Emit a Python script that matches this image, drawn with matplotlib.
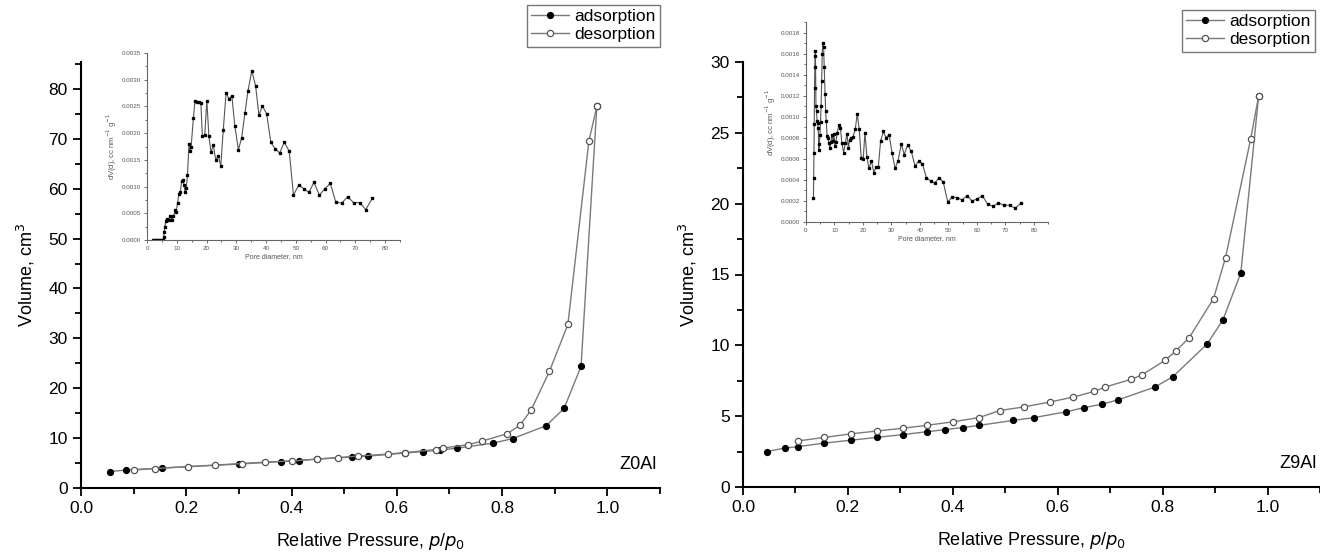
import matplotlib.pyplot as plt
from matplotlib.ticker import MultipleLocator, FormatStrFormatter

plt.rcParams['font.family'] = ['Liberation Sans', 'DejaVu Sans']

# Z0Al isotherm
z0_ads_x = [0.055, 0.085, 0.153, 0.30, 0.38, 0.415, 0.448, 0.514, 0.546, 0.615, 0.649,
            0.682, 0.715, 0.783, 0.82, 0.884, 0.918, 0.95, 0.98]
z0_ads_y = [3.3, 3.6, 4.0, 4.8, 5.3, 5.5, 5.8, 6.2, 6.4, 7.0, 7.3,
            7.6, 8.0, 9.0, 9.9, 12.5, 16.0, 24.4, 76.5]
z0_des_x = [0.10, 0.14, 0.204, 0.254, 0.306, 0.35, 0.40, 0.448, 0.489, 0.526, 0.583,
            0.615, 0.674, 0.687, 0.736, 0.762, 0.81, 0.834, 0.855, 0.89, 0.925, 0.965, 0.98]
z0_des_y = [3.6, 3.9, 4.3, 4.6, 4.9, 5.2, 5.4, 5.8, 6.1, 6.4, 6.8,
            7.1, 7.7, 8.0, 8.7, 9.4, 10.9, 12.6, 15.6, 23.4, 32.8, 69.6, 76.5]

# Z9Al isotherm
z9_ads_x = [0.045, 0.08, 0.105, 0.155, 0.205, 0.255, 0.305, 0.35, 0.385, 0.42, 0.45,
            0.515, 0.555, 0.615, 0.65, 0.685, 0.715, 0.785, 0.82, 0.885, 0.915, 0.949, 0.983]
z9_ads_y = [2.5, 2.75, 2.85, 3.1, 3.3, 3.5, 3.7, 3.9, 4.05, 4.2, 4.35,
            4.7, 4.9, 5.3, 5.6, 5.85, 6.15, 7.05, 7.8, 10.1, 11.8, 15.1, 27.6]
z9_des_x = [0.105, 0.155, 0.205, 0.255, 0.305, 0.35, 0.40, 0.45, 0.49, 0.535, 0.585,
            0.63, 0.67, 0.69, 0.74, 0.76, 0.805, 0.825, 0.85, 0.897, 0.92, 0.968, 0.983]
z9_des_y = [3.25, 3.5, 3.75, 3.95, 4.15, 4.35, 4.6, 4.9, 5.4, 5.65, 6.0,
            6.35, 6.75, 7.05, 7.6, 7.9, 8.95, 9.6, 10.5, 13.3, 16.2, 24.6, 27.6]

# pore size distributions (insets)
z0_psd_x = [2.0, 2.5, 3.0, 3.5, 4.0, 4.5, 5.0, 5.3, 5.6, 5.8, 6.0, 6.3, 6.6, 7.3, 7.8,
            8.4, 8.9, 9.5, 9.8, 10.3, 10.7, 11.2, 11.6, 12.1, 12.5, 12.8, 13.2, 13.6,
            14.1, 14.4, 14.8, 15.6, 16.1, 16.7, 17.4, 18.1, 18.6, 19.4, 20.1, 20.8,
            21.5, 22.3, 23.1, 23.9, 24.8, 25.6, 26.6, 27.5, 28.5, 29.5, 30.7, 31.8,
            32.9, 33.9, 35.2, 36.5, 37.6, 38.8, 40.2, 41.6, 43.1, 44.6, 46.1, 47.8,
            49.2, 51.0, 52.7, 54.4, 56.1, 57.9, 59.8, 61.6, 63.4, 65.4, 67.4, 69.4,
            71.4, 73.5, 75.7]
z0_psd_y = [0.0, 0.0, 0.0, 0.0, 0.0, 0.0, 0.0, 0.0, 0.00005, 0.00015, 0.00025, 0.00035,
            0.0004, 0.00038, 0.00044, 0.00038, 0.00045, 0.00056, 0.00053, 0.0007,
            0.00086, 0.00089, 0.0011, 0.00112, 0.00103, 0.00089, 0.00097, 0.00122,
            0.0018, 0.00166, 0.00174, 0.00228, 0.0026, 0.00259, 0.00258, 0.00256,
            0.00194, 0.00196, 0.00261, 0.00194, 0.00164, 0.00178, 0.00149, 0.00158,
            0.00139, 0.00205, 0.00276, 0.00264, 0.0027, 0.00214, 0.00169, 0.00191,
            0.00237, 0.00278, 0.00317, 0.00288, 0.00234, 0.00251, 0.00236, 0.00183,
            0.0017, 0.00163, 0.00183, 0.00166, 0.00084, 0.00103, 0.00096, 0.00089,
            0.00108, 0.00084, 0.00096, 0.00106, 0.00071, 0.00069, 0.00081, 0.0007,
            0.0007, 0.00057, 0.00078]

z9_psd_x = [2.6, 2.7, 2.8, 2.9, 3.0, 3.1, 3.2, 3.3, 3.5, 3.7, 3.9, 4.1, 4.3, 4.5, 4.7,
            4.9, 5.1, 5.3, 5.5, 5.7, 5.9, 6.2, 6.4, 6.7, 6.9, 7.1, 7.4, 7.7, 8.1,
            8.4, 8.8, 9.1, 9.5, 9.8, 10.2, 10.5, 11.0, 11.5, 12.1, 12.6, 13.2, 13.8,
            14.4, 14.9, 15.3, 15.9, 16.5, 17.3, 18.0, 18.7, 19.4, 20.1, 20.7, 21.4,
            22.1, 23.0, 23.8, 24.6, 25.4, 26.2, 27.2, 28.1, 29.2, 30.2, 31.3, 32.3,
            33.5, 34.5, 35.7, 37.0, 38.3, 39.6, 40.9, 42.3, 43.8, 45.2, 46.7, 48.2,
            49.8, 51.4, 53.2, 54.8, 56.6, 58.3, 60.2, 61.9, 63.8, 65.7, 67.6, 69.6,
            71.5, 73.5, 75.5]
z9_psd_y = [0.00023, 0.00042, 0.00066, 0.00093, 0.00127, 0.00147, 0.00158, 0.00162,
            0.0011, 0.00105, 0.00096, 0.00094, 0.00089, 0.00068, 0.00074, 0.00083,
            0.00095, 0.0011, 0.00134, 0.0016, 0.0017, 0.00166, 0.00147, 0.00122,
            0.00105, 0.00096, 0.00082, 0.0008, 0.00075, 0.0007, 0.00076, 0.00083,
            0.00077, 0.00084, 0.00072, 0.00076, 0.00085, 0.00092, 0.00089, 0.00075,
            0.00066, 0.00075, 0.00084, 0.0007, 0.00078, 0.0008, 0.00081, 0.00088,
            0.00103, 0.00088, 0.00061, 0.0006, 0.00085, 0.00062, 0.00051, 0.00058,
            0.00047, 0.00052, 0.00052, 0.00077, 0.00086, 0.0008, 0.00083, 0.00066,
            0.00051, 0.00058, 0.00074, 0.00064, 0.00073, 0.00067, 0.00053, 0.00058,
            0.00055, 0.00042, 0.00039, 0.00037, 0.00042, 0.00038, 0.00019, 0.00024,
            0.00023, 0.00021, 0.00025, 0.0002, 0.00022, 0.00025, 0.00017, 0.00015,
            0.00018, 0.00016, 0.00016, 0.00013, 0.00018]

W, H = 1320, 556
fig = plt.figure(figsize=(W / 100, H / 100), dpi=100)

line_col = '#7a7a7a'


def main_panel(rect, ads_x, ads_y, des_x, des_y, ymax, ymajor, name, leg_anchor):
    ax = fig.add_axes(rect)
    ax.plot(ads_x, ads_y, '-', color=line_col, lw=1.0, marker='o', ms=4.2,
            mfc='black', mec='black', label='adsorption')
    ax.plot(des_x, des_y, '-', color=line_col, lw=1.0, marker='o', ms=4.5,
            mfc='white', mec='#555555', mew=0.9, label='desorption')
    ax.set_xlim(0, 1.1)
    ax.set_ylim(0, ymax)
    ax.spines['top'].set_visible(False)
    ax.spines['right'].set_visible(False)
    ax.spines['left'].set_linewidth(1.5)
    ax.spines['bottom'].set_linewidth(1.5)
    ax.xaxis.set_major_locator(MultipleLocator(0.2))
    ax.xaxis.set_minor_locator(MultipleLocator(0.1))
    ax.xaxis.set_major_formatter(FormatStrFormatter('%.1f'))
    ax.yaxis.set_major_locator(MultipleLocator(ymajor))
    ax.yaxis.set_minor_locator(MultipleLocator(ymajor / 2))
    ax.tick_params(which='major', direction='out', length=6, width=1.3, labelsize=12.5)
    ax.tick_params(which='minor', direction='out', length=4, width=1.3)
    ax.set_xlabel('Relative Pressure, $p$/$p_0$', fontsize=13, labelpad=11)
    ax.set_ylabel('Volume, cm$^3$', fontsize=13, labelpad=8)
    ax.text(0.995, 0.055, name, transform=ax.transAxes, ha='right', va='center',
            fontsize=13)
    fig.legend(*ax.get_legend_handles_labels(), loc='upper right',
               bbox_to_anchor=leg_anchor, bbox_transform=fig.transFigure,
               fontsize=12.5, fancybox=False, edgecolor='#777777', framealpha=1,
               handlelength=2.2, handletextpad=0.3, borderpad=0.25,
               labelspacing=0.15, borderaxespad=0)
    return ax


def inset(rect, xs, ys, ymax, ymajor):
    ax = fig.add_axes(rect)
    ax.plot(xs, ys, '-', color='#555555', lw=0.8, marker='s', ms=2,
            mfc='black', mec='black')
    ax.set_xlim(0, 85)
    ax.set_ylim(0, ymax)
    ax.spines['top'].set_visible(False)
    ax.spines['right'].set_visible(False)
    for s in ('left', 'bottom'):
        ax.spines[s].set_color('#666666')
        ax.spines[s].set_linewidth(0.8)
    ax.xaxis.set_major_locator(MultipleLocator(10))
    ax.xaxis.set_minor_locator(MultipleLocator(5))
    ax.yaxis.set_major_locator(MultipleLocator(ymajor))
    ax.yaxis.set_minor_locator(MultipleLocator(ymajor / 2))
    ax.yaxis.set_major_formatter(FormatStrFormatter('%.4f'))
    ax.tick_params(which='major', direction='out', length=2.5, width=0.6,
                   labelsize=4.5, colors='#555555', pad=1.5)
    ax.tick_params(which='minor', direction='out', length=1.5, width=0.6,
                   colors='#555555')
    ax.set_xlabel('Pore diameter, nm', fontsize=5, color='#555555', labelpad=2)
    ax.set_ylabel('dV(d), cc nm$^{-1}$ g$^{-1}$', fontsize=5.5, color='#555555',
                  labelpad=2)
    return ax


main_panel([81 / W, 1 - 488 / H, (660 - 81) / W, (488 - 62) / H],
           z0_ads_x, z0_ads_y, z0_des_x, z0_des_y, 85.4, 10, 'Z0Al',
           (660 / W, 1 - 5 / H))
main_panel([743 / W, 1 - 487 / H, (1320 - 743) / W, (487 - 62) / H],
           z9_ads_x, z9_ads_y, z9_des_x, z9_des_y, 30, 5, 'Z9Al',
           (1315 / W, 1 - 10 / H))

inset([147 / W, 1 - 240 / H, (400 - 147) / W, (240 - 53) / H],
      z0_psd_x, z0_psd_y, 0.0035, 0.0005)
inset([806 / W, 1 - 222 / H, (1048 - 806) / W, (222 - 22) / H],
      z9_psd_x, z9_psd_y, 0.0019, 0.0002)

fig.savefig('out.png', dpi=100)
